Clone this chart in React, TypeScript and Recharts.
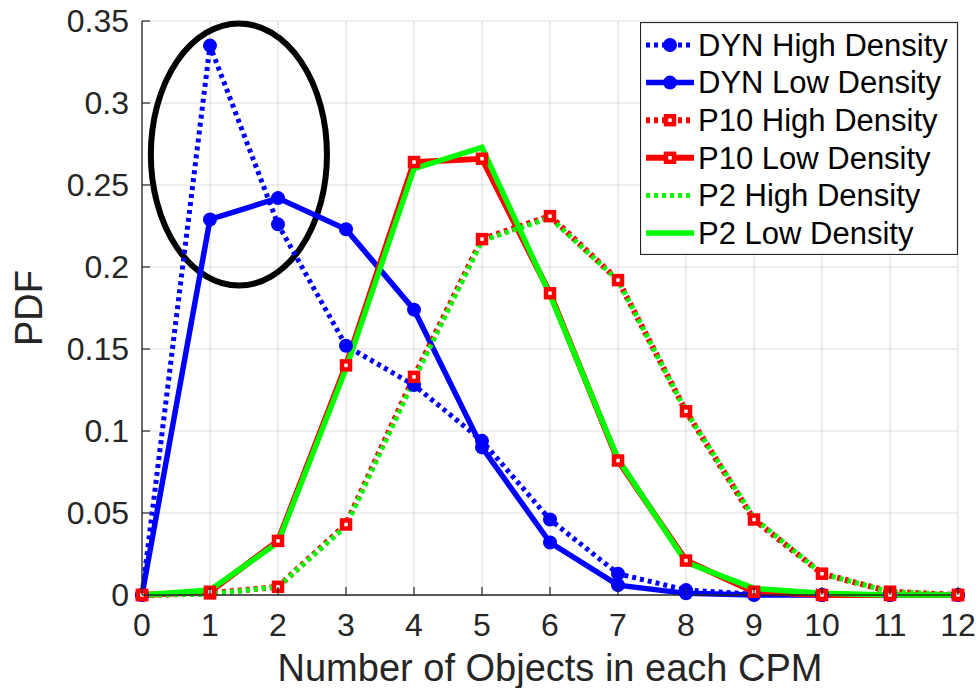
import {
  CartesianGrid,
  Legend,
  Line,
  LineChart,
  ReferenceArea,
  XAxis,
  YAxis
} from "recharts";

const objects = [0, 1, 2, 3, 4, 5, 6, 7, 8, 9, 10, 11, 12];
const dynHigh = [0, 0.335, 0.226, 0.152, 0.128, 0.094, 0.046, 0.013, 0.003, 0.0005, 0, 0, 0];
const dynLow = [0, 0.229, 0.242, 0.223, 0.174, 0.09, 0.032, 0.006, 0.001, 0, 0, 0, 0];
const p10High = [0, 0.001, 0.005, 0.043, 0.133, 0.217, 0.231, 0.192, 0.112, 0.046, 0.013, 0.002, 0];
const p10Low = [0, 0.002, 0.033, 0.14, 0.264, 0.266, 0.184, 0.082, 0.021, 0.002, 0, 0, 0];
const p2High = [0, 0.0005, 0.005, 0.042, 0.131, 0.216, 0.23, 0.192, 0.112, 0.047, 0.013, 0.002, 0];
const p2Low = [0, 0.003, 0.032, 0.138, 0.26, 0.273, 0.183, 0.083, 0.02, 0.004, 0.001, 0, 0];

const xTicks = [0, 1, 2, 3, 4, 5, 6, 7, 8, 9, 10, 11, 12];
const yTicks = [0, 0.05, 0.1, 0.15, 0.2, 0.25, 0.3, 0.35];

// the hand-drawn ring around the DYN peak, in data units
const ringX = [0.13, 2.72];
const ringY = [0.1887, 0.3485];

const series = [
  { key: "dynHigh", name: "DYN High Density", values: dynHigh, color: "#0000ff", width: 5, dash: "4 4", marker: "circle" },
  { key: "dynLow", name: "DYN Low Density", values: dynLow, color: "#0000ff", width: 5.5, dash: undefined, marker: "circle" },
  { key: "p10High", name: "P10 High Density", values: p10High, color: "#ff0000", width: 6, dash: "4 4", marker: "square" },
  { key: "p10Low", name: "P10 Low Density", values: p10Low, color: "#ff0000", width: 6, dash: undefined, marker: "square" },
  { key: "p2High", name: "P2 High Density", values: p2High, color: "#00ff00", width: 5, dash: "4 4", marker: "none" },
  { key: "p2Low", name: "P2 Low Density", values: p2Low, color: "#00ff00", width: 5.5, dash: undefined, marker: "none" }
];

const data = objects.map((x, i) => {
  const row: { [k: string]: number } = { x };
  series.forEach((s) => {
    row[s.key] = s.values[i];
  });
  return row;
});

const ink = "#262626";
const font = "'Liberation Sans', Arial, Helvetica, sans-serif";

function markerShape(kind: string, color: string, cx: number, cy: number, key?: number | string) {
  if (kind === "circle") {
    return <circle key={key} cx={cx} cy={cy} r={7} fill={color} stroke="none" />;
  }
  if (kind === "square") {
    return (
      <rect key={key} x={cx - 4} y={cy - 4} width={8} height={8} fill="#fff" stroke={color} strokeWidth={4.5} />
    );
  }
  return <g key={key} />;
}

function BottomTick(props: any) {
  const { x, y, payload } = props;
  return (
    <g>
      <line x1={x} y1={y} x2={x} y2={y - 8} stroke={ink} strokeWidth={1.2} />
      <text x={x} y={y + 30} dy="0.35em" textAnchor="middle" fill={ink} fontSize={32} fontFamily={font}>
        {payload.value}
      </text>
    </g>
  );
}

function TopTick(props: any) {
  const { x, y } = props;
  return <line x1={x} y1={y} x2={x} y2={y + 8} stroke={ink} strokeWidth={1.2} />;
}

function LeftTick(props: any) {
  const { x, y, payload } = props;
  return (
    <g>
      <line x1={x} y1={y} x2={x + 8} y2={y} stroke={ink} strokeWidth={1.2} />
      <text x={x - 13} y={y} dy="0.35em" textAnchor="end" fill={ink} fontSize={32} fontFamily={font}>
        {payload.value}
      </text>
    </g>
  );
}

function RightTick(props: any) {
  const { x, y } = props;
  return <line x1={x} y1={y} x2={x - 8} y2={y} stroke={ink} strokeWidth={1.2} />;
}

function LegendBox() {
  const rowGap = 37.6;
  return (
    <svg width={318} height={233} style={{ display: "block" }}>
      <rect x={0.5} y={0.5} width={317} height={232} fill="#fff" stroke={ink} strokeWidth={1.2} />
      {series.map((s, i) => {
        const cy = 23 + i * rowGap;
        return (
          <g key={s.key}>
            <line x1={6} x2={54} y1={cy} y2={cy} stroke={s.color} strokeWidth={s.width} strokeDasharray={s.dash} />
            {markerShape(s.marker, s.color, 30, cy)}
            <text x={58} y={cy} dy="0.35em" fontSize={31} fontFamily={font} fill="#000">
              {s.name}
            </text>
          </g>
        );
      })}
    </svg>
  );
}

export default function App() {
  return (
    <div style={{ position: "absolute", left: 0, top: 0, width: 979, height: 688, background: "#fff" }}>
      <LineChart width={979} height={688} data={data} margin={{ top: 21, right: 21, bottom: 0, left: 0 }}>
        <CartesianGrid stroke="#dfdfdf" strokeWidth={1.2} />
        <XAxis
          dataKey="x"
          type="number"
          domain={[0, 12]}
          ticks={xTicks}
          height={93}
          tickSize={0}
          tickMargin={0}
          tickLine={false}
          tick={BottomTick}
          axisLine={{ stroke: ink, strokeWidth: 1.3 }}
          interval={0}
          label={{
            content: (p: any) => (
              <text
                x={p.viewBox.x + p.viewBox.width / 2}
                y={p.viewBox.y + 86}
                textAnchor="middle"
                fill={ink}
                fontSize={38}
                fontFamily={font}
              >
                Number of Objects in each CPM
              </text>
            )
          }}
        />
        <XAxis
          xAxisId="top"
          orientation="top"
          dataKey="x"
          type="number"
          domain={[0, 12]}
          ticks={xTicks}
          height={0}
          tickSize={0}
          tickMargin={0}
          tickLine={false}
          tick={TopTick}
          axisLine={{ stroke: ink, strokeWidth: 1.3 }}
          interval={0}
        />
        <YAxis
          type="number"
          domain={[0, 0.35]}
          ticks={yTicks}
          width={142}
          tickSize={0}
          tickMargin={0}
          tickLine={false}
          tick={LeftTick}
          axisLine={{ stroke: ink, strokeWidth: 1.3 }}
          interval={0}
          label={{
            content: (p: any) => {
              const cx = p.viewBox.x + 42;
              const cy = p.viewBox.y + p.viewBox.height / 2;
              return (
                <text
                  x={cx}
                  y={cy}
                  transform={`rotate(-90 ${cx} ${cy})`}
                  textAnchor="middle"
                  fill={ink}
                  fontSize={38}
                  fontFamily={font}
                >
                  PDF
                </text>
              );
            }
          }}
        />
        <YAxis
          yAxisId="right"
          orientation="right"
          type="number"
          domain={[0, 0.35]}
          ticks={yTicks}
          width={0}
          tickSize={0}
          tickMargin={0}
          tickLine={false}
          tick={RightTick}
          axisLine={{ stroke: ink, strokeWidth: 1.3 }}
          interval={0}
        />
        <ReferenceArea
          x1={ringX[0]}
          x2={ringX[1]}
          y1={ringY[0]}
          y2={ringY[1]}
          ifOverflow="visible"
          shape={(p: any) => (
            <ellipse
              cx={p.x + p.width / 2}
              cy={p.y + p.height / 2}
              rx={Math.abs(p.width) / 2}
              ry={Math.abs(p.height) / 2}
              fill="none"
              stroke="#000"
              strokeWidth={6}
            />
          )}
        />
        {series.map((s) => (
          <Line
            key={s.key}
            dataKey={s.key}
            name={s.name}
            type="linear"
            stroke={s.color}
            strokeWidth={s.width}
            strokeDasharray={s.dash}
            isAnimationActive={false}
            activeDot={false}
            dot={
              s.marker === "none"
                ? false
                : (p: any) => markerShape(s.marker, s.color, p.cx, p.cy, `${s.key}-${p.index}`)
            }
          />
        ))}
        <Legend
          layout="horizontal"
          verticalAlign="middle"
          align="center"
          wrapperStyle={{ left: 640, top: 22, width: 318, height: 233 }}
          content={() => <LegendBox />}
        />
      </LineChart>
    </div>
  );
}
